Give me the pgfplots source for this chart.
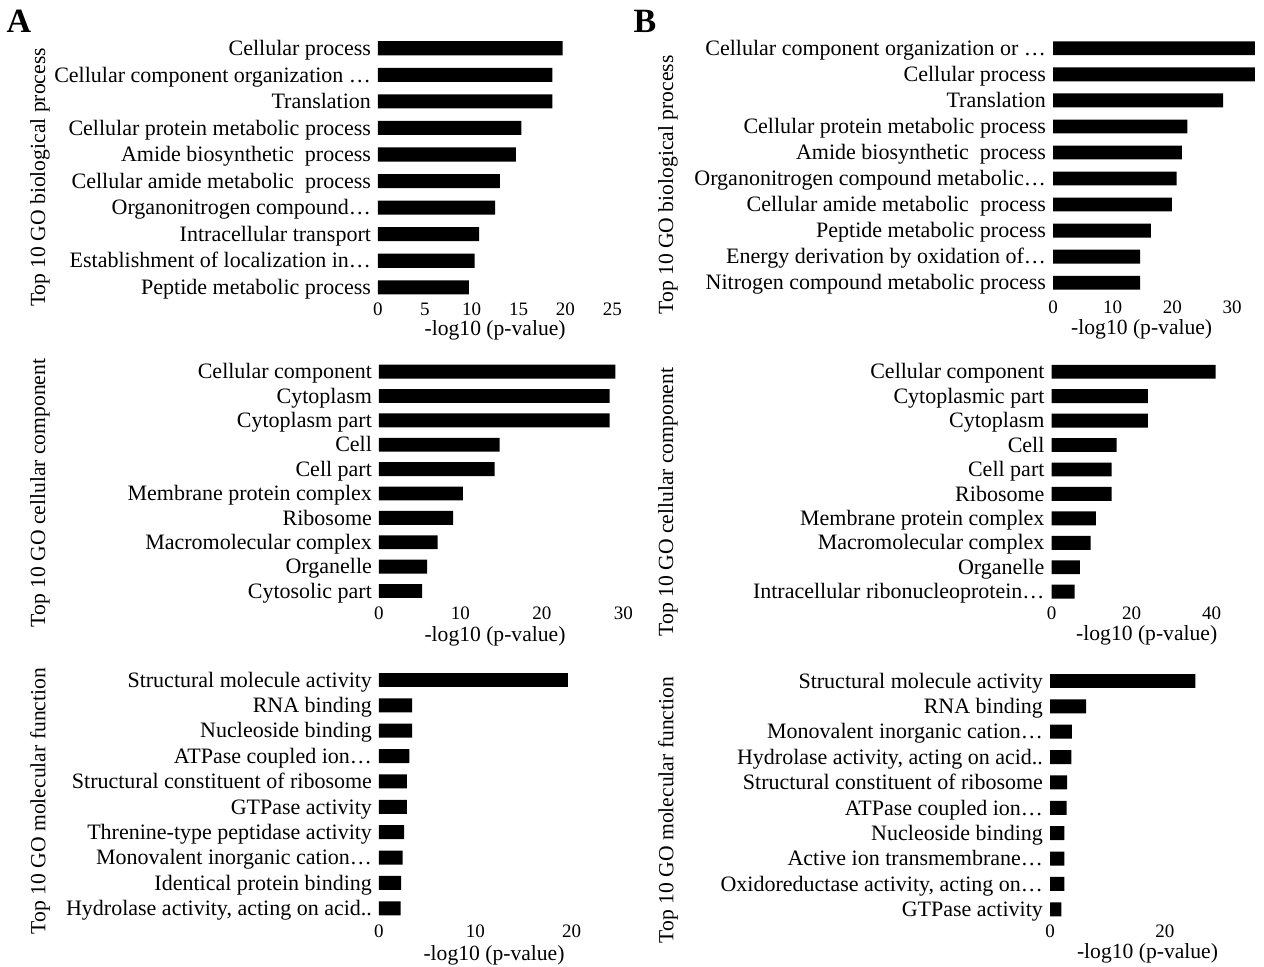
\documentclass[border=0pt]{standalone}
\usepackage{fontspec}
\setmainfont{Liberation Serif}
\usepackage{pgfplots}
\pgfplotsset{compat=1.18}
\pgfplotsset{
  gobar/.style={
    scale only axis, anchor=north west,
    xbar, bar shift=0pt,
    xmin=0, ymin=-0.5, ymax=9.5,
    ytick={0,...,9},
    axis lines*=left,
    axis line style={draw=none},
    major tick length=0pt,
    tick style={draw=none},
    /pgf/number format/assume math mode=true,
    yticklabel style={font=\fontsize{11}{12}\selectfont, anchor=base east, yshift=-3.6pt},
    xticklabel style={font=\fontsize{9.5}{10}\selectfont, anchor=center},
    xlabel={-log10 (p-value)},
    xlabel style={font=\fontsize{10.8}{12}\selectfont, anchor=center},
    ylabel style={font=\fontsize{10.8}{12}\selectfont, anchor=center},
    clip=false,
  },
  gofill/.style={fill=black, draw=none},
}
\begin{document}
\begin{tikzpicture}
\useasboundingbox (0,0) rectangle (632pt,-483.5pt);
\node[font=\bfseries\fontsize{17}{17}\selectfont] at (9.5pt,-10.5pt) {A};
\node[font=\bfseries\fontsize{17}{17}\selectfont] at (322.5pt,-10.5pt) {B};

% A - biological process
\begin{axis}[gobar, at={(189pt,-17.5pt)}, width=117.15pt, height=132.8pt,
  xmax=25, xtick={0,5,10,15,20,25}, bar width=0.53,
  xticklabel style={yshift=-4.3pt},
  xlabel style={at={(axis description cs:0.5,0)}, yshift=-14.9pt},
  ylabel={Top 10 GO biological process},
  ylabel style={at={(axis description cs:-1.4426,0.4635)}},
  yticklabels={Peptide metabolic process, Establishment of localization in…, Intracellular transport, Organonitrogen compound…, Cellular amide metabolic~ process, Amide biosynthetic~ process, Cellular protein metabolic process, Translation, Cellular component organization …, Cellular process}]
\addplot[gofill] coordinates {(19.7,9) (18.6,8) (18.6,7) (15.3,6) (14.7,5) (13.0,4) (12.5,3) (10.8,2) (10.3,1) (9.7,0)};
\end{axis}

% B - biological process
\begin{axis}[gobar, at={(526.5pt,-17.65pt)}, width=104.5pt, height=130.2pt,
  xmax=35, xtick={0,10,20,30}, bar width=0.53,
  xticklabel style={yshift=-5.8pt},
  xlabel style={at={(axis description cs:0.4244,0)}, yshift=-16.6pt},
  ylabel={Top 10 GO biological process},
  ylabel style={at={(axis description cs:-1.842,0.425)}},
  yticklabels={Nitrogen compound metabolic process, Energy derivation by oxidation of…, Peptide metabolic process, Cellular amide metabolic~ process, Organonitrogen compound metabolic…, Amide biosynthetic~ process, Cellular protein metabolic process, Translation, Cellular process, Cellular component organization or …}]
\addplot[gofill] coordinates {(33.8,9) (33.8,8) (28.5,7) (22.5,6) (21.6,5) (20.7,4) (19.9,3) (16.4,2) (14.6,1) (14.6,0)};
\end{axis}

% A - cellular component
\begin{axis}[gobar, at={(189.5pt,-179.75pt)}, width=122.25pt, height=121.85pt,
  xmax=30, xtick={0,10,20,30}, bar width=0.57,
  xticklabel style={yshift=-5pt},
  xlabel style={at={(axis description cs:0.4744,0)}, yshift=-16.75pt},
  ylabel={Top 10 GO cellular component},
  ylabel style={at={(axis description cs:-1.3865,0.452)}},
  yticklabels={Cytosolic part, Organelle, Macromolecular complex, Ribosome, Membrane protein complex, Cell part, Cell, Cytoplasm part, Cytoplasm, Cellular component}]
\addplot[gofill] coordinates {(29.0,9) (28.3,8) (28.3,7) (14.8,6) (14.2,5) (10.3,4) (9.1,3) (7.2,2) (5.9,1) (5.3,0)};
\end{axis}

% B - cellular component
\begin{axis}[gobar, at={(525.75pt,-179.75pt)}, width=88pt, height=122.2pt,
  xmax=44, xtick={0,20,40}, bar width=0.57,
  xticklabel style={yshift=-4.7pt},
  xlabel style={at={(axis description cs:0.541,0)}, yshift=-15.8pt},
  ylabel={Top 10 GO cellular component},
  ylabel style={at={(axis description cs:-2.179,0.417)}},
  yticklabels={Intracellular ribonucleoprotein…, Organelle, Macromolecular complex, Membrane protein complex, Ribosome, Cell part, Cell, Cytoplasm, Cytoplasmic part, Cellular component}]
\addplot[gofill] coordinates {(41.0,9) (24.1,8) (24.1,7) (16.3,6) (15.0,5) (15.0,4) (11.1,3) (9.8,2) (7.1,1) (5.8,0)};
\end{axis}

% A - molecular function
\begin{axis}[gobar, at={(189.5pt,-333.65pt)}, width=120.4pt, height=126.85pt,
  xmax=25, xtick={0,10,20}, bar width=0.55,
  xticklabel style={yshift=-5.35pt},
  xlabel style={at={(axis description cs:0.4776,0)}, yshift=-17pt},
  ylabel={Top 10 GO molecular function},
  ylabel style={at={(axis description cs:-1.408,0.473)}},
  yticklabels={{Hydrolase activity, acting on acid..}, Identical protein binding, Monovalent inorganic cation…, Threnine-type peptidase activity, GTPase activity, Structural constituent of ribosome, ATPase coupled ion…, Nucleoside binding, RNA binding, Structural molecule activity}]
\addplot[gofill] coordinates {(19.6,9) (3.45,8) (3.45,7) (3.15,6) (2.9,5) (2.9,4) (2.6,3) (2.45,2) (2.3,1) (2.25,0)};
\end{axis}

% B - molecular function
\begin{axis}[gobar, at={(525pt,-334.15pt)}, width=100.5pt, height=126.85pt,
  xmax=35, xtick={0,20}, bar width=0.55,
  xticklabel style={yshift=-4.85pt},
  xlabel style={at={(axis description cs:0.485,0)}, yshift=-15.5pt},
  ylabel={Top 10 GO molecular function},
  ylabel style={at={(axis description cs:-1.9005,0.4415)}},
  yticklabels={GTPase activity, {Oxidoreductase activity, acting on…}, Active ion transmembrane…, Nucleoside binding, ATPase coupled ion…, Structural constituent of ribosome, {Hydrolase activity, acting on acid..}, Monovalent inorganic cation…, RNA binding, Structural molecule activity}]
\addplot[gofill] coordinates {(25.3,9) (6.3,8) (3.8,7) (3.7,6) (3.0,5) (2.9,4) (2.5,3) (2.5,2) (2.5,1) (2.0,0)};
\end{axis}
\end{tikzpicture}
\end{document}
